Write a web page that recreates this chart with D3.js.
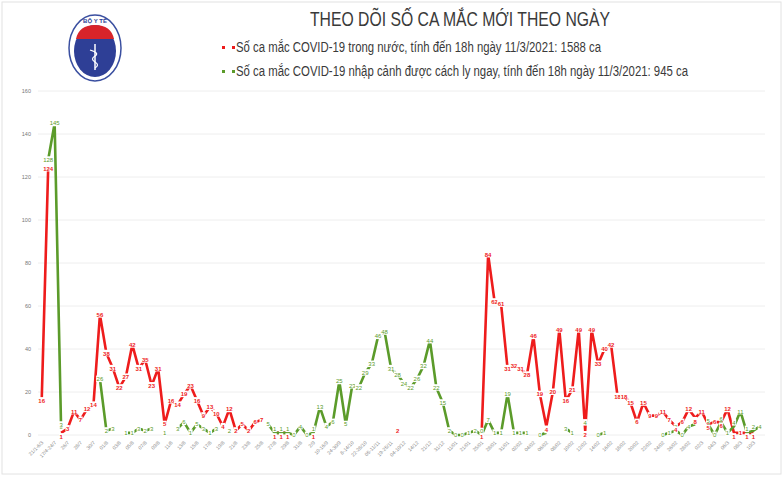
<!DOCTYPE html>
<html><head><meta charset="utf-8">
<script src="https://cdn.jsdelivr.net/npm/d3@7"></script>
<style>body{margin:0;background:#fff}</style></head>
<body><svg id="c" width="783" height="480"></svg>
<script>
const redVals = [16,124,null,1,3,11,7,12,14,56,38,31,22,27,42,31,35,23,31,5,16,14,19,23,16,9,13,10,4,12,2,5,2,6,7,null,1,1,1,null,null,null,1,null,null,null,null,null,null,null,null,null,null,null,null,2,null,null,null,null,null,null,null,null,null,null,null,null,1,84,62,61,31,32,31,28,46,19,4,20,49,16,21,49,2,49,33,40,42,18,18,15,6,15,9,9,11,7,4,6,12,8,11,5,6,6,12,1,1,1,1,null];
const greenVals = [null,128,145,3,null,null,null,null,null,26,2,3,null,1,1,3,2,3,null,1,null,3,6,1,5,3,1,3,null,2,null,null,null,null,null,5,1,1,1,0,4,0,1,13,4,6,25,5,23,22,29,33,46,48,31,28,24,22,26,32,44,22,15,2,0,0,1,2,0,7,1,1,19,1,1,1,null,0,1,null,null,3,1,null,4,null,0,1,null,null,null,null,null,null,null,null,0,1,2,0,4,5,null,5,0,6,1,4,11,1,2,4];
const yTicks = [0,20,40,60,80,100,120,140,160];
const xLabels = ["21/1-6/3","17/4-24/7","26/7","28/7","30/7","01/8","03/8","05/8","07/8","09/8","11/8","13/8","15/8","17/8","19/8","21/8","23/8","25/8","27/8","29/8","31/8","2/9","10-16/9","24-30/9","8-14/10","22-28/10","05-11/11","19-25/11","04-10/12","14/12","21/12","31/12","11/01","21/01","25/01","28/01","31/01","02/02","04/02","06/02","08/02","10/02","12/02","14/02","16/02","18/02","20/02","22/02","24/02","26/02","28/02","02/3","04/3","06/3","08/3","10/3"];
const legendTexts = ["Số ca mắc COVID-19 trong nước, tính đến 18h ngày 11/3/2021: 1588 ca","Số ca mắc COVID-19 nhập cảnh được cách ly ngay, tính đến 18h ngày 11/3/2021: 945 ca"];
const RED="#ee1c1c", GREEN="#5b9b2a";
const svg=d3.select("#c");
svg.append("rect").attr("x",2).attr("y",2).attr("width",779).attr("height",472).attr("fill","none").attr("stroke","#e2e2e2");
const idx=d3.range(redVals.length);
const x=d3.scaleLinear().domain([0,redVals.length-1]).range([41.7,41.7+6.47*(redVals.length-1)]);
const y=d3.scaleLinear().domain([0,160]).range([435,91]);
const g=svg.append("g");
g.selectAll(".gl").data(yTicks).join("line").attr("x1",38).attr("x2",765).attr("y1",d=>y(d)).attr("y2",d=>y(d)).attr("stroke","#eeeeee").attr("stroke-width",1);
g.selectAll(".yt").data(yTicks).join("text").attr("x",31).attr("y",d=>y(d)+2).attr("text-anchor","end").attr("font-size",5.5).attr("fill","#777").attr("font-family","Liberation Sans").text(d=>d);
xLabels.forEach((t,i)=>{const xi=x(i*2);g.append("text").attr("transform",`translate(${xi+2},${443}) rotate(-45)`).attr("text-anchor","end").attr("font-size",5).attr("fill","#888").attr("font-family","Liberation Sans").text(t);});
function series(vals,col){
  const line=d3.line().defined(d=>vals[d]!=null).x(d=>x(d)).y(d=>y(vals[d]));
  g.append("path").datum(idx).attr("d",line).attr("fill","none").attr("stroke",col).attr("stroke-width",2.6).attr("stroke-linejoin","round");
}
series(redVals,RED); series(greenVals,GREEN);
function labels(vals,other,col,bold,dir){
  idx.forEach(i=>{if(vals[i]==null)return;const t=String(vals[i]);const w=t.length*3.3+1;
    let yy=y(vals[i]);
    if(other[i]!=null && Math.abs(other[i]-vals[i])<4) yy+= dir*3.8;
    g.append("rect").attr("x",x(i)-w/2).attr("y",yy-3.5).attr("width",w).attr("height",6.5).attr("fill","#fff");
    g.append("text").attr("x",x(i)).attr("y",yy+2.2).attr("text-anchor","middle").attr("font-size",6).attr("font-weight",bold?"bold":"normal").attr("fill",col).attr("font-family","Liberation Sans").text(t);});
}
labels(greenVals,redVals,GREEN,false,-1); labels(redVals,greenVals,RED,true,1);
// header
const nf="'Liberation Sans','DejaVu Sans',sans-serif";
svg.append("text").attr("x",310).attr("y",26).attr("font-size",20).attr("font-family",nf).attr("fill","#3a3a3a")
  .attr("textLength",300).attr("lengthAdjust","spacingAndGlyphs").text("THEO DÕI SỐ CA MẮC MỚI THEO NGÀY");
[[RED,47,365],[GREEN,71,452]].forEach((c,i)=>{
  svg.append("rect").attr("x",222).attr("y",c[1]-1).attr("width",3).attr("height",3).attr("fill",c[0]);
  svg.append("rect").attr("x",232).attr("y",c[1]-1).attr("width",3).attr("height",3).attr("fill",c[0]);
  svg.append("text").attr("x",236).attr("y",c[1]+5).attr("font-size",14).attr("font-family",nf).attr("fill","#3a3a3a")
    .attr("textLength",c[2]).attr("lengthAdjust","spacingAndGlyphs").text(legendTexts[i]);
});
// logo
const lg=svg.append("g").attr("transform","translate(95,48)");
lg.append("ellipse").attr("rx",26).attr("ry",33).attr("fill","#fff").attr("stroke","#3a4fa0").attr("stroke-width",1.5);
lg.append("ellipse").attr("rx",21).attr("ry",26).attr("cy",3).attr("fill","#2e3f96");
lg.append("path").attr("d","M-19,-9 Q-16,-23 0,-23 Q16,-23 19,-9 Z").attr("fill","#d8242a");
lg.append("line").attr("x1",0).attr("x2",0).attr("y1",-4).attr("y2",22).attr("stroke","#fff").attr("stroke-width",1.5);
lg.append("path").attr("d","M-5,2 Q5,5 0,8 Q-5,11 0,14 Q5,17 0,20").attr("fill","none").attr("stroke","#fff").attr("stroke-width",1.2);
lg.append("text").attr("y",-25).attr("text-anchor","middle").attr("font-size",6).attr("fill","#2e3f96").attr("font-weight","bold").attr("font-family","Liberation Sans").text("BỘ Y TẾ");
</script></body></html>
